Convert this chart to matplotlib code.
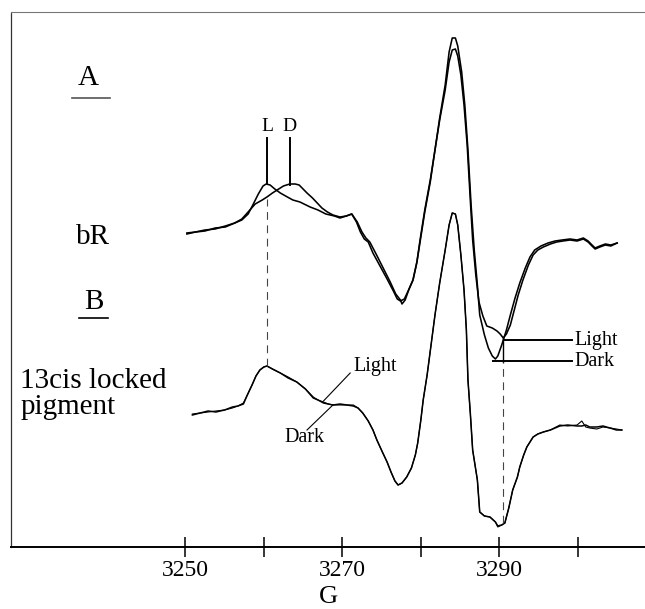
import matplotlib
matplotlib.use("Agg")
import matplotlib.pyplot as plt

plt.rcParams.update({
    "font.family": "Liberation Serif",
    "font.size": 14,
})

# ---------- spectrum A (bR), light and dark traces ----------
a_light_g = [3250.2, 3251.3, 3252.5, 3253.8, 3255.1, 3256.3, 3257.2, 3258.0, 3258.6, 3259.3,
             3259.9, 3260.3, 3260.8, 3261.4, 3262.1, 3263.0, 3263.7, 3264.6, 3265.9, 3266.9,
             3267.9, 3269.0, 3269.7, 3270.5, 3271.2, 3271.8, 3272.3, 3272.8, 3273.3, 3273.9,
             3274.8, 3275.7, 3276.5, 3277.0, 3277.4, 3277.9, 3278.5, 3279.0, 3279.5, 3279.9,
             3280.5, 3281.2, 3281.8, 3282.4, 3283.1, 3283.6, 3284.0, 3284.4, 3284.7, 3285.1,
             3285.5, 3285.9, 3286.3, 3286.6, 3287.0, 3287.4, 3287.9, 3288.4, 3289.1, 3289.7,
             3290.1, 3290.5, 3290.9, 3291.4, 3291.9, 3292.4, 3293.0, 3293.7, 3294.3, 3294.9,
             3295.6, 3296.5, 3297.3, 3298.1, 3299.0, 3299.9, 3300.7, 3301.3, 3301.8, 3302.2,
             3302.8, 3303.5, 3304.2, 3305.0]
a_light_y = [314, 315, 317, 318, 321, 324, 327, 333, 342, 353,
             361, 363, 362, 358, 354, 350, 347, 345, 340, 337,
             333, 331, 329, 331, 333, 325, 315, 308, 305, 294,
             281, 268, 256, 248, 246, 248, 258, 267, 285, 307,
             337, 367, 397, 427, 457, 485, 497, 498, 491, 472,
             442, 402, 347, 307, 272, 245, 231, 221, 219, 216,
             213, 209, 213, 222, 237, 252, 267, 282, 292, 297,
             300, 303, 305, 306, 307, 306, 308, 305, 301, 298,
             300, 302, 301, 304]

a_dark_g = [3250.2, 3251.3, 3252.5, 3253.8, 3255.1, 3256.3, 3257.2, 3258.0, 3258.9, 3259.8,
            3260.4, 3261.1, 3261.7, 3262.5, 3263.3, 3264.0, 3264.5, 3265.0, 3265.5, 3266.2,
            3266.8, 3267.4, 3268.1, 3268.8, 3269.7, 3270.5, 3271.2, 3271.9, 3272.5, 3273.0,
            3273.5, 3274.3, 3275.2, 3276.1, 3276.8, 3277.4, 3277.6, 3278.0, 3278.5, 3279.0,
            3279.5, 3279.9, 3280.5, 3281.2, 3281.8, 3282.4, 3283.1, 3283.6, 3284.0, 3284.4,
            3284.7, 3285.2, 3285.6, 3286.0, 3286.4, 3286.8, 3287.2, 3287.5, 3288.1, 3288.6,
            3289.1, 3289.5, 3289.8, 3290.3, 3290.9, 3291.4, 3292.0, 3292.6, 3293.3, 3293.9,
            3294.5, 3295.3, 3296.2, 3297.1, 3298.0, 3299.0, 3299.9, 3300.7, 3301.3, 3301.8,
            3302.2, 3302.8, 3303.5, 3304.2, 3305.0]
a_dark_y = [313, 315, 316, 319, 320, 324, 328, 335, 343, 347,
            350, 354, 357, 361, 363, 363, 362, 358, 354, 349,
            344, 339, 335, 332, 330, 331, 333, 325, 315, 309,
            305, 293, 279, 265, 253, 247, 243, 247, 258, 267,
            285, 305, 335, 365, 397, 429, 462, 495, 509, 509,
            501, 475, 442, 397, 342, 297, 262, 232, 212, 199,
            191, 188, 191, 202, 217, 232, 249, 264, 279, 290,
            297, 301, 304, 306, 307, 308, 307, 309, 306, 302,
            299, 301, 303, 302, 304]

# ---------- spectrum B (13cis locked pigment), light and dark nearly coincide ----------
b_g = [3250.9, 3251.9, 3252.9, 3253.9, 3255.0, 3256.0, 3256.7, 3257.4, 3257.9, 3258.5,
       3259.0, 3259.5, 3260.0, 3260.4, 3261.1, 3262.1, 3263.1, 3264.2, 3265.3, 3266.3,
       3266.9, 3267.6, 3268.2, 3268.8, 3269.7, 3270.6, 3271.4, 3272.0, 3272.6, 3273.3,
       3273.9, 3274.4, 3275.1, 3275.7, 3276.2, 3276.7, 3277.1, 3277.6, 3278.2, 3278.8,
       3279.3, 3279.6, 3280.0, 3280.3, 3280.8, 3281.3, 3281.8, 3282.4, 3283.1, 3283.6,
       3284.0, 3284.4, 3284.7, 3285.1, 3285.5, 3285.8, 3286.0, 3286.3, 3286.6, 3287.2,
       3287.5, 3288.1, 3288.8, 3289.5, 3289.8, 3290.3, 3290.7, 3291.2, 3291.7, 3292.3,
       3292.6, 3293.1, 3293.5, 3294.3, 3294.9, 3295.6, 3296.5, 3297.7, 3298.7, 3299.9,
       3300.5, 3301.0, 3301.5, 3302.4, 3303.2, 3304.1, 3304.9, 3305.6]
b_light_y = [133, 134, 135, 136, 137, 139, 141, 144, 152, 162,
             171, 177, 180, 181, 178, 174, 170, 165, 158, 150,
             147, 145, 143, 142, 142, 142, 142, 139, 134, 126,
             117, 107, 95, 85, 75, 66, 62, 64, 70, 79,
             92, 104, 127, 147, 172, 202, 232, 264, 297, 322,
             334, 333, 322, 292, 257, 217, 167, 134, 97, 67,
             35, 31, 30, 25, 20, 22, 24, 39, 57, 70,
             80, 92, 100, 110, 113, 115, 117, 122, 121, 122,
             126, 120, 119, 118, 120, 119, 118, 117]
b_dark_y = [132, 134, 136, 135, 137, 140, 141, 143, 152, 162,
            171, 177, 180, 181, 178, 174, 169, 165, 158, 149,
            147, 144, 143, 142, 143, 142, 141, 139, 134, 126,
            117, 107, 95, 85, 75, 66, 62, 64, 70, 79,
            92, 104, 127, 147, 172, 202, 232, 264, 297, 322,
            334, 333, 322, 292, 257, 217, 167, 134, 97, 67,
            35, 31, 30, 25, 21, 22, 24, 39, 57, 70,
            80, 92, 100, 110, 113, 115, 117, 121, 122, 121,
            121, 122, 120, 120, 121, 119, 117, 117]

field_ticks = [3250, 3260, 3270, 3280, 3290, 3300]
field_labels = ["3250", "", "3270", "", "3290", ""]

fig = plt.figure(figsize=(6.45, 6.09), dpi=100)
ax = fig.add_axes([11 / 645, 62 / 609, 634 / 645, 535 / 609])

ax.plot(a_light_g, a_light_y, color="black", lw=1.15)
ax.plot(a_dark_g, a_dark_y, color="black", lw=1.15)
ax.plot(b_g, b_dark_y, color="black", lw=1.1)
ax.plot(b_g, b_light_y, color="black", lw=0.8)

# L / D markers on spectrum A
ax.plot([3260.4, 3260.4], [364, 409], color="black", lw=1.4)
ax.plot([3263.3, 3263.3], [362, 409], color="black", lw=1.4)
ax.text(3260.4, 412, "L", ha="center", va="bottom", fontsize=14)
ax.text(3263.3, 412, "D", ha="center", va="bottom", fontsize=14)
ax.plot([3260.4, 3260.4], [181, 348], color="#444444", lw=0.8, ls=(0, (7, 5)))

# high-field light/dark markers on spectrum A
ax.plot([3290.7, 3299.3], [207, 207], color="black", lw=1.4)
ax.plot([3289.2, 3299.3], [186, 186], color="black", lw=1.4)
ax.plot([3290.5, 3290.5], [185, 209], color="black", lw=1.0)
ax.text(3299.5, 207, "Light", ha="left", va="center", fontsize=14.5)
ax.text(3299.5, 186, "Dark", ha="left", va="center", fontsize=14.5)
ax.plot([3290.5, 3290.5], [24, 185], color="#444444", lw=0.8, ls=(0, (7, 5)))

# light/dark leaders on spectrum B
ax.plot([3271.0, 3267.6], [174, 146], color="black", lw=0.8)
ax.plot([3265.5, 3268.8], [117, 142], color="black", lw=0.8)
ax.text(3271.4, 180, "Light", ha="left", va="center", fontsize=14.5)
ax.text(3262.6, 109, "Dark", ha="left", va="center", fontsize=14.5)

# panel labels
ax.text(3237.6, 469, "A", ha="center", va="center", fontsize=21)
ax.plot([3235.6, 3240.4], [449, 449], color="#555555", lw=1.2)
ax.text(3238.3, 310, "bR", ha="center", va="center", fontsize=21)
ax.text(3238.3, 245, "B", ha="center", va="center", fontsize=21)
ax.plot([3236.4, 3240.2], [229, 229], color="black", lw=1.2)
ax.text(3229.0, 166, "13cis locked", ha="left", va="center", fontsize=21)
ax.text(3229.0, 140, "pigment", ha="left", va="center", fontsize=21)

ax.set_xlim(3227.8, 3308.55)
ax.set_ylim(0, 535)
ax.set_xticks(field_ticks)
ax.set_xticklabels(field_labels, fontsize=17)
ax.set_yticks([])
ax.tick_params(axis="x", direction="inout", length=14, width=1.1, pad=2)
ax.set_xlabel("G", fontsize=19, labelpad=4)

ax.spines["right"].set_visible(False)
ax.spines["bottom"].set_linewidth(1.4)
ax.spines["top"].set_linewidth(0.8)
ax.spines["top"].set_color("#777777")
ax.spines["left"].set_linewidth(0.9)
ax.spines["left"].set_linestyle((0, (3, 1)))
ax.spines["left"].set_color("#333333")

fig.savefig("out.png", dpi=100)
